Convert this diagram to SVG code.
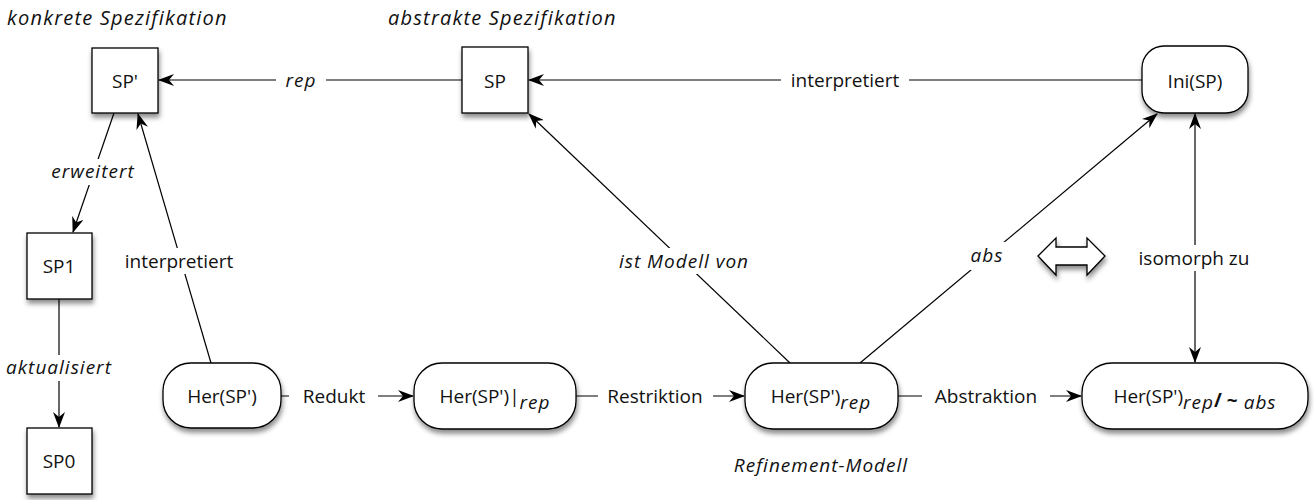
<svg xmlns="http://www.w3.org/2000/svg" width="1314" height="500" viewBox="0 0 1314 500">
<style>
text{font-family:"Open Sans","Liberation Sans",sans-serif;font-size:19px;fill:#111}
.i{font-style:italic;letter-spacing:1px}
.t{font-size:20px;letter-spacing:1.2px}
.n{fill:#fff;stroke:#000;stroke-width:1.3}
.c{stroke:#000;stroke-width:1.2;fill:none}
.bg{fill:#fff}
</style>
<defs>
<filter id="sh" x="-20%" y="-20%" width="150%" height="160%"><feDropShadow dx="1" dy="4" stdDeviation="2.5" flood-color="#000" flood-opacity="0.45"/></filter>
<marker id="a" viewBox="0 0 16 12" refX="15" refY="6" markerWidth="16" markerHeight="12" markerUnits="userSpaceOnUse" orient="auto-start-reverse"><path d="M0,0 L16,6 L0,12 L5,6 z" fill="#000"/></marker>
</defs>
<text class="i t" x="7" y="25">konkrete Spezifikation</text>
<text class="i t" x="388" y="25">abstrakte Spezifikation</text>
<text class="i" x="821" y="472" text-anchor="middle">Refinement-Modell</text>
<g id="connectors">
<line class="c" x1="462" y1="80" x2="159" y2="80" marker-end="url(#a)"/>
<rect class="bg" x="276" y="68" width="50" height="26"/>
<text class="i" x="301" y="87" text-anchor="middle">rep</text>
<line class="c" x1="1142" y1="80" x2="529" y2="80" marker-end="url(#a)"/>
<rect class="bg" x="781" y="68" width="128" height="26"/>
<text x="845" y="87" text-anchor="middle">interpretiert</text>
<line class="c" x1="114" y1="113" x2="73" y2="232" marker-end="url(#a)"/>
<rect class="bg" x="45" y="159" width="96" height="26"/>
<text class="i" x="93" y="178" text-anchor="middle">erweitert</text>
<line class="c" x1="211" y1="363" x2="138" y2="114" marker-end="url(#a)"/>
<rect class="bg" x="116" y="248" width="130" height="26"/>
<text x="179" y="268" text-anchor="middle">interpretiert</text>
<line class="c" x1="59" y1="299" x2="59" y2="427" marker-end="url(#a)"/>
<rect class="bg" x="2" y="355" width="114" height="26"/>
<text class="i" x="59" y="374" text-anchor="middle">aktualisiert</text>
<line class="c" x1="281" y1="396" x2="413" y2="396" marker-end="url(#a)"/>
<rect class="bg" x="289" y="383" width="89" height="26"/>
<text x="334" y="403" text-anchor="middle">Redukt</text>
<line class="c" x1="576" y1="396" x2="744" y2="396" marker-end="url(#a)"/>
<rect class="bg" x="598" y="383" width="115" height="26"/>
<text x="655" y="403" text-anchor="middle">Restriktion</text>
<line class="c" x1="790" y1="363" x2="529" y2="114" marker-end="url(#a)"/>
<rect class="bg" x="608" y="248" width="152" height="26"/>
<text class="i" x="684" y="268" text-anchor="middle">ist Modell von</text>
<line class="c" x1="860" y1="363" x2="1157" y2="114" marker-end="url(#a)"/>
<rect class="bg" x="962" y="242" width="48" height="28"/>
<text class="i" x="987" y="262" text-anchor="middle">abs</text>
<line class="c" x1="898" y1="396" x2="1081" y2="396" marker-end="url(#a)"/>
<rect class="bg" x="922" y="383" width="128" height="26"/>
<text x="986" y="403" text-anchor="middle">Abstraktion</text>
<line class="c" x1="1195" y1="114" x2="1195" y2="362" marker-start="url(#a)" marker-end="url(#a)"/>
<rect class="bg" x="1130" y="245" width="130" height="26"/>
<text x="1194" y="265" text-anchor="middle">isomorph zu</text>
</g>
<g id="doublearrow">
<polygon class="n" filter="url(#sh)" points="1038,256 1056,238 1056,247 1087,247 1087,238 1105,256 1087,275 1087,265 1056,265 1056,275"/>
</g>
<g id="sp2">
<rect class="n" filter="url(#sh)" x="92" y="48" width="66" height="65"/>
<text x="125" y="88" text-anchor="middle">SP'</text>
</g>
<g id="sp">
<rect class="n" filter="url(#sh)" x="462" y="47" width="66" height="66"/>
<text x="495" y="88" text-anchor="middle">SP</text>
</g>
<g id="ini">
<rect class="n" filter="url(#sh)" x="1142" y="46" width="106" height="67" rx="22"/>
<text x="1195" y="88" text-anchor="middle">Ini(SP)</text>
</g>
<g id="sp1">
<rect class="n" filter="url(#sh)" x="27" y="233" width="65" height="66"/>
<text x="59" y="273" text-anchor="middle">SP1</text>
</g>
<g id="sp0">
<rect class="n" filter="url(#sh)" x="27" y="428" width="65" height="66"/>
<text x="59" y="468" text-anchor="middle">SP0</text>
</g>
<g id="her">
<rect class="n" filter="url(#sh)" x="163" y="363" width="118" height="65" rx="28"/>
<text x="222" y="403" text-anchor="middle">Her(SP')</text>
</g>
<g id="herred">
<rect class="n" filter="url(#sh)" x="414" y="363" width="162" height="66" rx="28"/>
<text x="495" y="403" text-anchor="middle">Her(SP')|<tspan class="i" dy="6">rep</tspan></text>
</g>
<g id="herrep">
<rect class="n" filter="url(#sh)" x="745" y="363" width="153" height="66" rx="28"/>
<text x="821" y="403" text-anchor="middle">Her(SP')<tspan class="i" dy="6">rep</tspan></text>
</g>
<g id="herabs">
<rect class="n" filter="url(#sh)" x="1082" y="363" width="226" height="66" rx="30"/>
<text x="1195" y="403" text-anchor="middle">Her(SP')<tspan class="i" dy="6">rep</tspan><tspan dy="-2" font-weight="bold">/ ~</tspan><tspan class="i" dy="2"> abs</tspan></text>
</g>
</svg>
